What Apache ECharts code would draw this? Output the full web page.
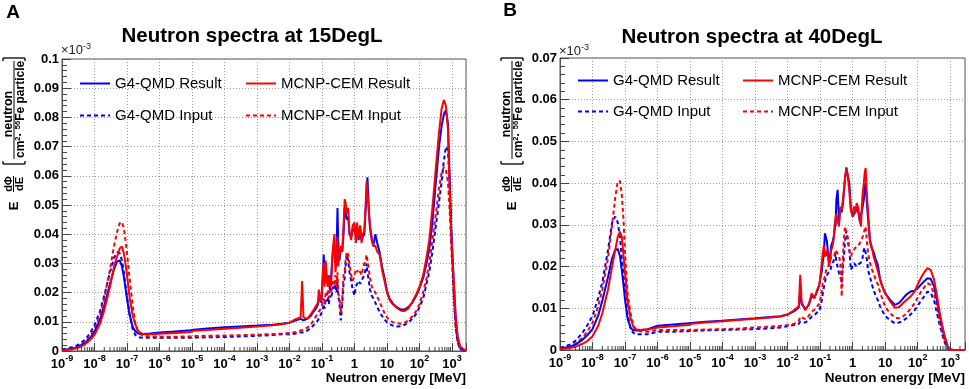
<!DOCTYPE html>
<html><head><meta charset="utf-8">
<script src="https://cdn.jsdelivr.net/npm/echarts@6/dist/echarts.min.js"></script>
<style>html,body{margin:0;padding:0;background:#fff}#c{width:969px;height:389px}</style>
</head><body><div id="c"></div>
<script>
// ---------- DATA ----------
const energy = [
 1e-9,2e-9,3e-9,5e-9,7e-9,1e-8,1.5e-8,2e-8,3e-8,4e-8,5e-8,6e-8,7e-8,8e-8,9e-8,1e-7,1.2e-7,1.5e-7,1.8e-7,2.2e-7,3e-7,5e-7,
 1e-6,3e-6,9e-6,1.1e-5,3e-5,1e-4,3e-4,1e-3,3e-3,6e-3,
 0.01,0.016,0.022,0.0245,0.027,0.035,0.045,0.055,0.066,0.075,0.08,0.088,0.096,0.106,0.113,0.12,0.13,0.14,0.151,0.162,
 0.175,0.19,0.205,0.22,0.242,0.26,0.28,0.3,0.315,0.345,0.38,0.42,0.46,0.5,0.53,0.58,0.64,0.7,0.79,0.88,
 1.0,1.1,1.2,1.33,1.5,1.65,1.8,2.0,2.2,2.35,2.5,2.75,3.0,3.4,3.8,4.4,5.0,5.9,7.0,8.4,10,
 12,15,20,27,35,45,60,80,100,130,165,200,250,320,400,480,560,650,750,850,950,1050,1150,1300,1500,1800,2700];

// 15DegL
const g4Result15 = [
 0.0003,0.0008,0.0013,0.0027,0.0042,0.0065,0.011,0.0155,0.023,0.028,0.0307,0.031,0.029,0.0255,0.0215,0.018,0.0125,0.0082,0.0068,0.006,0.0058,0.006,
 0.0063,0.0067,0.0071,0.0073,0.0077,0.0081,0.0084,0.0087,0.009,0.0093,
 0.0097,0.0105,0.011,0.0115,0.0105,0.011,0.012,0.0135,0.0145,0.016,0.0175,0.019,0.0165,0.025,0.033,0.027,0.03,0.025,0.023,0.024,
 0.021,0.025,0.031,0.035,0.036,0.03,0.034,0.049,0.038,0.031,0.035,0.034,0.04,0.049,0.048,0.045,0.046,0.04,0.039,0.042,
 0.041,0.04,0.042,0.038,0.042,0.038,0.039,0.04,0.048,0.054,0.0595,0.049,0.042,0.038,0.036,0.04,0.037,0.034,0.029,0.025,0.0205,
 0.018,0.0163,0.015,0.0142,0.0142,0.015,0.0165,0.019,0.0215,0.025,0.03,0.035,0.044,0.058,0.070,0.077,0.081,0.0825,0.078,0.06,0.042,0.031,0.022,0.011,0.004,0.001,0];
const mcnpResult15 = [
 0.0002,0.0006,0.001,0.0022,0.0036,0.0055,0.0095,0.014,0.022,0.029,0.0325,0.0352,0.0358,0.0335,0.0298,0.026,0.0185,0.012,0.0092,0.0068,0.0058,0.0057,
 0.0059,0.0062,0.0065,0.0069,0.0072,0.0076,0.008,0.0084,0.0088,0.0092,
 0.0097,0.011,0.0115,0.024,0.0115,0.011,0.0125,0.014,0.0155,0.0165,0.021,0.017,0.018,0.027,0.03,0.022,0.031,0.024,0.022,0.026,
 0.023,0.022,0.03,0.036,0.04,0.027,0.031,0.039,0.029,0.033,0.036,0.034,0.043,0.052,0.051,0.047,0.049,0.041,0.038,0.043,
 0.044,0.037,0.044,0.039,0.043,0.037,0.04,0.041,0.05,0.058,0.055,0.048,0.043,0.039,0.036,0.036,0.034,0.033,0.028,0.024,0.02,
 0.0175,0.016,0.0148,0.0138,0.0137,0.0146,0.0168,0.0195,0.022,0.026,0.032,0.038,0.049,0.063,0.075,0.083,0.086,0.084,0.076,0.055,0.04,0.031,0.023,0.012,0.005,0.0015,0];
const g4Input15 = [
 0.0005,0.0013,0.002,0.0038,0.0058,0.0088,0.0138,0.019,0.027,0.032,0.0338,0.0335,0.031,0.027,0.0225,0.0185,0.0125,0.0075,0.0055,0.0047,0.0045,0.0045,
 0.0045,0.0045,0.0045,0.0046,0.0047,0.0048,0.005,0.0052,0.0055,0.0057,
 0.0057,0.006,0.0063,0.0066,0.0064,0.007,0.0078,0.0088,0.0098,0.0105,0.0112,0.012,0.013,0.0145,0.016,0.0145,0.018,0.017,0.0185,0.016,
 0.019,0.018,0.02,0.022,0.021,0.023,0.02,0.024,0.019,0.016,0.0105,0.016,0.023,0.025,0.029,0.033,0.031,0.027,0.024,0.021,
 0.019,0.022,0.023,0.024,0.023,0.024,0.025,0.026,0.028,0.03,0.027,0.024,0.021,0.019,0.018,0.0165,0.015,0.0135,0.012,0.0108,0.0098,
 0.0092,0.0087,0.0084,0.0085,0.009,0.0098,0.011,0.0128,0.015,0.018,0.023,0.027,0.034,0.043,0.051,0.058,0.065,0.07,0.069,0.057,0.04,0.028,0.018,0.008,0.003,0.0006,0];
const mcnpInput15 = [
 0.0003,0.0008,0.0014,0.003,0.0048,0.0075,0.0125,0.018,0.028,0.036,0.041,0.0438,0.0442,0.042,0.038,0.0335,0.025,0.0155,0.0095,0.0065,0.0052,0.005,
 0.0049,0.0049,0.005,0.0051,0.0052,0.0053,0.0054,0.0056,0.0058,0.006,
 0.0062,0.0065,0.007,0.0075,0.0072,0.008,0.009,0.0105,0.012,0.0125,0.0135,0.014,0.0148,0.017,0.018,0.016,0.02,0.019,0.021,0.018,
 0.021,0.02,0.022,0.024,0.023,0.026,0.022,0.027,0.02,0.018,0.013,0.018,0.026,0.027,0.031,0.034,0.033,0.03,0.026,0.024,
 0.026,0.028,0.027,0.028,0.027,0.026,0.028,0.03,0.031,0.033,0.031,0.028,0.025,0.022,0.021,0.02,0.0185,0.017,0.015,0.013,0.0115,
 0.0105,0.0099,0.0095,0.0093,0.0097,0.0105,0.0118,0.0138,0.016,0.02,0.025,0.03,0.038,0.047,0.056,0.061,0.063,0.062,0.058,0.048,0.036,0.026,0.017,0.008,0.0028,0.0005,0];

// 40DegL
const g4Result40 = [
 0.0003,0.0008,0.0013,0.0025,0.0036,0.005,0.0083,0.0118,0.0175,0.022,0.024,0.0242,0.0225,0.019,0.0155,0.012,0.0075,0.0052,0.0048,0.0047,0.0048,0.005,
 0.0058,0.0061,0.0064,0.0065,0.0068,0.007,0.0073,0.0076,0.0079,0.0081,
 0.0085,0.0093,0.0102,0.014,0.011,0.0098,0.0108,0.013,0.0125,0.0135,0.014,0.0148,0.016,0.018,0.019,0.021,0.023,0.028,0.027,0.026,
 0.023,0.021,0.023,0.025,0.026,0.027,0.029,0.03,0.036,0.0384,0.031,0.034,0.033,0.035,0.037,0.041,0.0438,0.042,0.04,0.034,
 0.032,0.032,0.033,0.034,0.033,0.031,0.031,0.034,0.036,0.039,0.04,0.035,0.031,0.026,0.0245,0.0235,0.022,0.0205,0.017,0.015,0.0135,
 0.0128,0.0118,0.0108,0.0113,0.0123,0.0133,0.014,0.0142,0.0148,0.0158,0.0166,0.0172,0.0171,0.0152,0.0115,0.0082,0.0058,0.0035,0.0018,0.0006,0.0002,0.0001,0,0,0,0,0];
const mcnpResult40 = [
 0.0002,0.0005,0.0008,0.0015,0.0022,0.0033,0.0058,0.0088,0.0145,0.02,0.024,0.0272,0.0284,0.027,0.0225,0.0185,0.0115,0.0075,0.0055,0.0049,0.0048,0.0049,
 0.0054,0.0057,0.006,0.0063,0.0066,0.0069,0.0072,0.0075,0.0078,0.008,
 0.0085,0.0096,0.0105,0.018,0.0115,0.0095,0.011,0.0136,0.0124,0.0135,0.0144,0.015,0.016,0.019,0.021,0.023,0.025,0.0224,0.023,0.024,
 0.022,0.02,0.022,0.024,0.025,0.0264,0.03,0.032,0.0325,0.031,0.0296,0.0344,0.0336,0.036,0.038,0.041,0.0435,0.042,0.038,0.0335,
 0.032,0.0344,0.0328,0.0352,0.034,0.031,0.0296,0.037,0.04,0.0425,0.0436,0.037,0.033,0.0265,0.025,0.0224,0.021,0.019,0.0168,0.015,0.0138,
 0.0126,0.0114,0.0101,0.0103,0.0112,0.012,0.0128,0.014,0.0157,0.0175,0.0188,0.0196,0.0192,0.0168,0.0126,0.0088,0.0062,0.0038,0.0022,0.0008,0.0003,0.0001,0,0,0,0,0];
const g4Input40 = [
 0.0005,0.0013,0.0022,0.0042,0.006,0.0082,0.0125,0.0162,0.024,0.0305,0.032,0.0305,0.027,0.022,0.018,0.014,0.0085,0.005,0.0041,0.0038,0.0038,0.0038,
 0.0044,0.0044,0.0045,0.0046,0.0047,0.0048,0.0049,0.005,0.0052,0.0054,
 0.0057,0.006,0.0063,0.0068,0.0065,0.0066,0.0072,0.008,0.0083,0.0087,0.009,0.0094,0.0096,0.011,0.012,0.0135,0.015,0.016,0.0176,0.018,
 0.0184,0.0184,0.019,0.02,0.0208,0.021,0.022,0.0232,0.021,0.02,0.0184,0.0175,0.016,0.02,0.0216,0.026,0.0285,0.0288,0.024,0.0192,
 0.0195,0.0208,0.0205,0.02,0.0205,0.0208,0.021,0.022,0.024,0.0245,0.0248,0.0216,0.019,0.0176,0.016,0.0144,0.0132,0.012,0.0104,0.0092,0.0082,
 0.0076,0.007,0.0064,0.0066,0.007,0.0076,0.0085,0.0095,0.0106,0.012,0.013,0.014,0.0137,0.0118,0.0085,0.0058,0.004,0.0022,0.001,0.0003,0.0001,0,0,0,0,0,0];
const mcnpInput40 = [
 0.0003,0.0009,0.0015,0.003,0.0045,0.0065,0.0105,0.0145,0.022,0.03,0.0365,0.0405,0.0405,0.037,0.031,0.023,0.0135,0.0085,0.0058,0.0048,0.0045,0.0044,
 0.0048,0.0048,0.0048,0.0048,0.0049,0.005,0.0051,0.0054,0.0056,0.0058,
 0.006,0.0063,0.007,0.008,0.0078,0.0074,0.0082,0.0092,0.0096,0.01,0.0104,0.0108,0.0112,0.013,0.0144,0.016,0.0168,0.0176,0.019,0.0192,
 0.02,0.0208,0.0215,0.0224,0.022,0.0224,0.023,0.024,0.0238,0.024,0.0225,0.021,0.0128,0.022,0.026,0.0296,0.0292,0.027,0.024,0.0225,
 0.0235,0.024,0.0245,0.0248,0.025,0.0256,0.026,0.027,0.028,0.029,0.0296,0.026,0.023,0.021,0.0195,0.0184,0.017,0.0158,0.0138,0.012,0.0105,
 0.0095,0.0087,0.0077,0.0076,0.008,0.0088,0.0098,0.0112,0.0125,0.0142,0.0152,0.016,0.0156,0.0135,0.01,0.0068,0.0044,0.0024,0.0012,0.0003,0.0001,0,0,0,0,0,0];

const panelTitles = ['Neutron spectra at 15DegL', 'Neutron spectra at 40DegL'];
const panelLetters = ['A', 'B'];
const seriesNames = ['G4-QMD Result', 'MCNP-CEM Result', 'G4-QMD Input', 'MCNP-CEM Input'];
const xAxisTitle = 'Neutron energy [MeV]';
const yMax = [0.1, 0.07];
const decadeExponents = [-9,-8,-7,-6,-5,-4,-3,-2,-1,0,1,2];
const minorMantissas = [2,3,4,5,6,7,8,9];
const minorTicks = decadeExponents.flatMap(d => minorMantissas.map(m => m * Math.pow(10, d))).concat([2000]);

// ---------- CHART ----------
const FONT = "'Liberation Sans', Arial, Helvetica, sans-serif";
const BLUE = '#0000ff', RED = '#ff0000';
const chart = echarts.init(document.getElementById('c'), null, {renderer: 'canvas'});

const grids = [
  {left: 62, top: 59, width: 404, height: 292},
  {left: 560, top: 58, width: 405, height: 292}
];
const xMax = [2700, 2850];

function pairs(vals) { return energy.map((e, i) => [e, vals[i]]); }

function logLabel(v) {
  const e = Math.round(Math.log10(v));
  if (Math.abs(v / Math.pow(10, e) - 1) > 1e-6) return '';
  if (e === 0) return '{b|1}';
  if (e === 1) return '{b|10}';
  return '{b|10}{s|' + e + '}';
}

const xAxes = grids.map((g, i) => ({
  gridIndex: i, type: 'log', logBase: 10, min: 1e-9, max: xMax[i], interval: 1, splitNumber: 13,
  axisLine: {show: true, onZero: false, lineStyle: {color: '#555', width: 1}},
  axisTick: {show: true, inside: true, length: 8, lineStyle: {color: '#444'}},
  minorTick: {show: false},
  splitLine: {show: true, lineStyle: {color: '#9a9a9a', type: [1, 2], width: 1}},
  axisLabel: {
    show: true, margin: 3, formatter: logLabel, color: '#000',
    rich: {
      b: {fontSize: 13, fontWeight: 'bold', fontFamily: FONT, lineHeight: 20, color: '#000'},
      s: {fontSize: 9, fontWeight: 'bold', fontFamily: FONT, lineHeight: 10, verticalAlign: 'top', color: '#000'}
    }
  }
}));

const yAxes = grids.map((g, i) => ({
  gridIndex: i, type: 'value', min: 0, max: yMax[i], interval: 0.01,
  axisLine: {show: true, lineStyle: {color: '#555', width: 1}},
  axisTick: {show: true, inside: true, length: 9, lineStyle: {color: '#444'}},
  minorTick: {show: true, splitNumber: 5, length: 5, lineStyle: {color: '#444'}},
  splitLine: {show: true, lineStyle: {color: '#9a9a9a', type: [1, 2], width: 1}},
  axisLabel: {fontSize: 13, fontWeight: 'bold', fontFamily: FONT, color: '#000', margin: 3}
}));

const dataSets = [
  [g4Input15, mcnpInput15, g4Result15, mcnpResult15],
  [g4Input40, mcnpInput40, g4Result40, mcnpResult40]
];
const styleOf = [
  {name: seriesNames[2], color: BLUE, type: [4, 3]},
  {name: seriesNames[3], color: RED, type: [4, 3]},
  {name: seriesNames[0], color: BLUE, type: 'solid'},
  {name: seriesNames[1], color: RED, type: 'solid'}
];

const series = [];
dataSets.forEach((set, p) => {
  set.forEach((vals, k) => {
    const st = styleOf[k];
    series.push({
      type: 'line', name: st.name, xAxisIndex: p, yAxisIndex: p,
      data: pairs(vals), showSymbol: false, symbol: 'none', smooth: false,
      lineStyle: {color: st.color, width: 2, type: st.type},
      itemStyle: {color: st.color}, z: 3 + k, animation: false
    });
  });
  series.push({
    type: 'custom', xAxisIndex: p, yAxisIndex: p, silent: true, z: 10, clip: false,
    data: minorTicks.map(v => [v, 0]),
    renderItem: (params, api) => {
      const c = api.coord([api.value(0), 0]);
      return {type: 'line', shape: {x1: c[0], y1: c[1], x2: c[0], y2: c[1] - 4}, style: {stroke: '#444', lineWidth: 1}};
    }
  });
});

const legendCommon = {
  orient: 'vertical', itemWidth: 30, itemHeight: 14, padding: 0, selectedMode: false,
  itemStyle: {opacity: 0, borderWidth: 0},
  textStyle: {fontSize: 15, fontFamily: FONT, color: '#000'}
};
const legends = [
  Object.assign({data: [seriesNames[0], seriesNames[2]], left: 79, top: 76, itemGap: 17}, legendCommon),
  Object.assign({data: [seriesNames[1], seriesNames[3]], left: 245, top: 76, itemGap: 17}, legendCommon),
  Object.assign({data: [seriesNames[0], seriesNames[2]], left: 577, top: 73, itemGap: 16}, legendCommon),
  Object.assign({data: [seriesNames[1], seriesNames[3]], left: 742, top: 73, itemGap: 16}, legendCommon)
];

function yTitle(x0) {
  const bf = (s) => 'bold ' + s + 'px ' + FONT;
  const L = (x1, y1, x2, y2, w) => ({type: 'line', shape: {x1, y1, x2, y2}, style: {stroke: '#000', lineWidth: w || 1}});
  return {
    type: 'group', x: x0, y: 214, rotation: Math.PI / 2,
    children: [
      {type: 'text', x: 8, y: 14, style: {text: 'E', font: bf(13), fill: '#000', align: 'center', verticalAlign: 'middle'}},
      {type: 'text', x: 30, y: 8.5, style: {text: 'dΦ', font: bf(11), fill: '#000', align: 'center', verticalAlign: 'middle'}},
      L(22, 13.5, 38, 13.5, 1),
      {type: 'text', x: 30, y: 19.5, style: {text: 'dE', font: bf(11), fill: '#000', align: 'center', verticalAlign: 'middle'}},
      L(50, 3, 50, 25, 1.3), L(50, 3, 53, 3, 1.3), L(50, 25, 53, 25, 1.3),
      {type: 'text', x: 100, y: 8.5, style: {text: 'neutron', font: bf(12.5), fill: '#000', align: 'center', verticalAlign: 'middle'}},
      L(55, 14, 153, 14, 1),
      {type: 'text', x: 56, y: 20.5, style: {
        text: 'cm{s|2}· {s|56}Fe particle', font: bf(12), fill: '#000', align: 'left', verticalAlign: 'middle',
        lineHeight: 14,
        rich: {s: {font: bf(7.5), fontSize: 7.5, fontWeight: 'bold', fontFamily: FONT, fill: '#000', verticalAlign: 'top', lineHeight: 8}}
      }},
      L(156, 3, 156, 25, 1.3), L(156, 3, 153, 3, 1.3), L(156, 25, 153, 25, 1.3)
    ]
  };
}

function scaleNote(x, y) {
  return {type: 'text', x: x, y: y, style: {
    text: '×10{s|-3}', font: '13px ' + FONT, fill: '#222', align: 'left', verticalAlign: 'middle', lineHeight: 16,
    rich: {s: {fontSize: 9, fontFamily: FONT, fill: '#222', verticalAlign: 'top', lineHeight: 9}}
  }};
}

const graphic = [
  {type: 'text', x: 13, y: 13, style: {text: panelLetters[0], font: 'bold 19px ' + FONT, fill: '#000', align: 'center', verticalAlign: 'middle'}},
  {type: 'text', x: 510, y: 11, style: {text: panelLetters[1], font: 'bold 19px ' + FONT, fill: '#000', align: 'center', verticalAlign: 'middle'}},
  {type: 'text', x: 252, y: 36, style: {text: panelTitles[0], font: 'bold 20.5px ' + FONT, fill: '#000', align: 'center', verticalAlign: 'middle'}},
  {type: 'text', x: 752, y: 37, style: {text: panelTitles[1], font: 'bold 20.5px ' + FONT, fill: '#000', align: 'center', verticalAlign: 'middle'}},
  {type: 'text', x: 466, y: 378, style: {text: xAxisTitle, font: 'bold 13.5px ' + FONT, fill: '#000', align: 'right', verticalAlign: 'middle'}},
  {type: 'text', x: 965, y: 378, style: {text: xAxisTitle, font: 'bold 13.5px ' + FONT, fill: '#000', align: 'right', verticalAlign: 'middle'}},
  scaleNote(61, 50), scaleNote(559, 51),
  yTitle(0), yTitle(498)
];

chart.setOption({
  animation: false,
  backgroundColor: '#fff',
  grid: grids.map(g => Object.assign({show: true, borderColor: '#555', borderWidth: 1, containLabel: false}, g)),
  xAxis: xAxes,
  yAxis: yAxes,
  legend: legends,
  series: series,
  graphic: graphic
});
</script>
</body></html>
